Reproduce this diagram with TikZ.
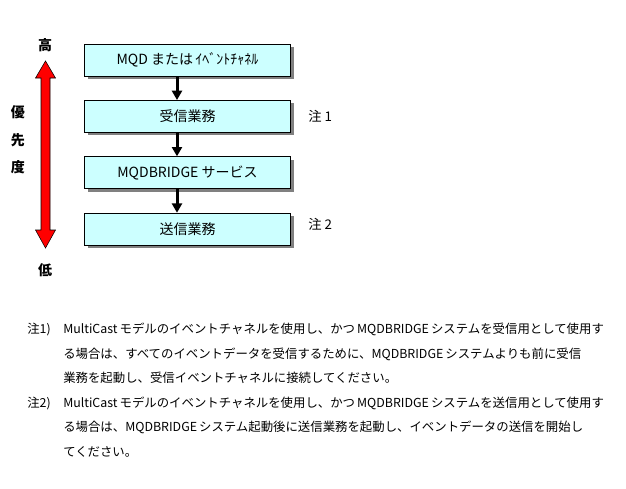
\documentclass[tikz,border=0pt]{standalone}
\usepackage{fontspec}
\setmainfont{Noto Sans CJK JP}
\usetikzlibrary{arrows.meta,shadows}
\definecolor{boxcyan}{RGB}{204,255,255}
\begin{document}
\begin{tikzpicture}[x=0.75pt, y=-0.75pt, inner sep=0pt,
   box/.style={draw, fill=boxcyan, minimum width=154.5pt, minimum height=24pt,
      font=\fontsize{10.5pt}{12pt}\selectfont,
      drop shadow={shadow xshift=2.25pt, shadow yshift=-2.25pt, fill=black!50, opacity=1}},
   flow/.style={line width=2.25pt, -{Triangle[width=7.5pt, length=7pt]}},
   prio/.style={font=\bfseries\fontsize{10.5pt}{12pt}\selectfont},
   note/.style={anchor=west, font=\fontsize{9.3pt}{12pt}\selectfont, text height=8pt, text depth=1.5pt}]
   \useasboundingbox (0,0) rectangle (626,489);
   % priority scale
   \node[prio] (hi) at (45,45) {高};
   \node[prio] (lo) at (45,270) {低};
   \node[prio] (p1) at (18,112) {優};
   \node[prio] (p2) at (18,140) {先};
   \node[prio] (p3) at (18,167) {度};
   \draw[fill=red] (45.5,61) -- (55.5,78) -- (50,78) -- (50,230) -- (55.5,230) -- (45.5,248)
      -- (35.5,230) -- (41,230) -- (41,78) -- (35.5,78) -- cycle;
   % boxes
   \node[box] (evch) at (187.5,60) {MQD または\,ｲﾍﾞﾝﾄﾁｬﾈﾙ};
   \node[box] (recv) at (187.5,116.3) {受信業務};
   \node[box] (svc) at (187.5,172.6) {MQDBRIDGE サービス};
   \node[box] (send) at (187.5,229) {送信業務};
   \coordinate (ax) at (177,0);
   \draw[flow] (evch.south -| ax) -- (recv.north -| ax);
   \draw[flow] (recv.south -| ax) -- (svc.north -| ax);
   \draw[flow] (svc.south -| ax) -- (send.north -| ax);
   \node[anchor=west, font=\fontsize{10pt}{12pt}\selectfont] (c1) at (308,116.3) {注 1};
   \node[anchor=west, font=\fontsize{10pt}{12pt}\selectfont] (c2) at (308,224) {注 2};
   % notes
   \node[note] (n1) at (27,329.5) {注1)};
   \node[note] (n1a) at (63,329.5) {MultiCast\,モデルのイベントチャネルを使用し、かつ\,MQDBRIDGE\,システムを受信用として使用す};
   \node[note] (n1b) at (63,354) {る場合は、すべてのイベントデータを受信するために、MQDBRIDGE\,システムよりも前に受信};
   \node[note] (n1c) at (63,378.5) {業務を起動し、受信イベントチャネルに接続してください。};
   \node[note] (n2) at (27,403) {注2)};
   \node[note] (n2a) at (63,403) {MultiCast\,モデルのイベントチャネルを使用し、かつ\,MQDBRIDGE\,システムを送信用として使用す};
   \node[note] (n2b) at (63,427.5) {る場合は、MQDBRIDGE\,システム起動後に送信業務を起動し、イベントデータの送信を開始し};
   \node[note] (n2c) at (63,452) {てください。};
\end{tikzpicture}
\end{document}
